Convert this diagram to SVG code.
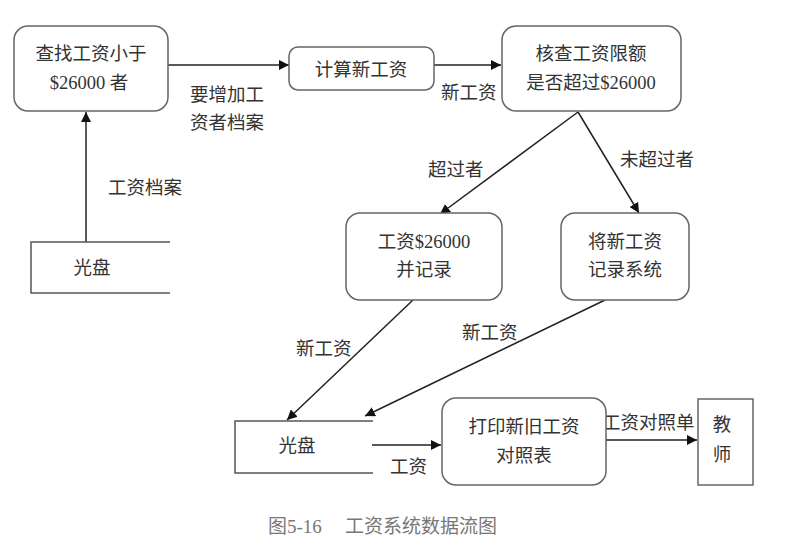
<svg xmlns="http://www.w3.org/2000/svg" width="797" height="547" viewBox="0 0 797 547">
<defs>
<marker id="ah" viewBox="0 0 10 10" refX="10" refY="5" markerWidth="10" markerHeight="10" markerUnits="userSpaceOnUse" orient="auto">
<path d="M0,0 L10,5 L0,10 z" fill="#111"/>
</marker>
<style>
.box{fill:#fff;stroke:#666;stroke-width:1.5}
.st{fill:none;stroke:#555;stroke-width:1.5}
.t{font-family:"Liberation Serif","Noto Sans CJK SC",serif;font-size:18.5px;fill:#333;text-anchor:middle}
.lb{font-family:"Liberation Serif","Noto Sans CJK SC",serif;font-size:18.5px;fill:#333}
.c{fill:none;stroke:#222;stroke-width:1.5;marker-end:url(#ah)}
.cap{font-family:"Liberation Serif","Noto Sans CJK SC",serif;font-size:19px;fill:#777}
</style>
</defs>
<rect width="797" height="547" fill="#fff"/>
<g id="connectors">
<line class="c" x1="168" y1="65" x2="289" y2="65"/>
<line class="c" x1="434" y1="65" x2="501" y2="65"/>
<line class="c" x1="578" y1="112" x2="440" y2="214"/>
<line class="c" x1="578" y1="112" x2="639" y2="213"/>
<line class="c" x1="86" y1="242" x2="86" y2="112"/>
<line class="c" x1="413" y1="300" x2="287" y2="420"/>
<line class="c" x1="605" y1="300" x2="365" y2="416"/>
<line class="c" x1="372" y1="445" x2="441" y2="445"/>
<line class="c" x1="606" y1="440" x2="697" y2="440"/>
<text class="lb" x="190" y="101">要增加工</text>
<text class="lb" x="190" y="129">资者档案</text>
<text class="lb" x="441" y="99">新工资</text>
<text class="lb" x="428" y="176">超过者</text>
<text class="lb" x="620" y="166">未超过者</text>
<text class="lb" x="108" y="194">工资档案</text>
<text class="lb" x="296" y="355">新工资</text>
<text class="lb" x="462" y="339">新工资</text>
<text class="lb" x="390" y="473">工资</text>
<text class="lb" x="602" y="429">工资对照单</text>
</g>
<g id="n1">
<rect class="box" x="14" y="26" width="154" height="85" rx="14"/>
<text class="t" x="91" y="60">查找工资小于</text>
<text class="t" x="89" y="89">$26000 者</text>
</g>
<g id="n2">
<rect class="box" x="289" y="47" width="145" height="43" rx="9"/>
<text class="t" x="361" y="76">计算新工资</text>
</g>
<g id="n3">
<rect class="box" x="502" y="26" width="179" height="85" rx="14"/>
<text class="t" x="591" y="60">核查工资限额</text>
<text class="t" x="591" y="89">是否超过$26000</text>
</g>
<g id="n4">
<rect class="box" x="346" y="213" width="156" height="87" rx="14"/>
<text class="t" x="424" y="248">工资$26000</text>
<text class="t" x="424" y="276">并记录</text>
</g>
<g id="n5">
<rect class="box" x="561" y="213" width="128" height="87" rx="14"/>
<text class="t" x="625" y="248">将新工资</text>
<text class="t" x="625" y="276">记录系统</text>
</g>
<g id="s1">
<path class="st" d="M170,242 H31 V293 H170"/>
<text class="t" x="92" y="274">光盘</text>
</g>
<g id="s2">
<path class="st" d="M373,421 H235 V473 H373"/>
<text class="t" x="297" y="452">光盘</text>
</g>
<g id="n6">
<rect class="box" x="442" y="398" width="164" height="87" rx="14"/>
<text class="t" x="524" y="433">打印新旧工资</text>
<text class="t" x="524" y="462">对照表</text>
</g>
<g id="n7">
<rect class="box" x="698" y="399" width="55" height="86"/>
<text class="t" x="722" y="431">教</text>
<text class="t" x="722" y="461">师</text>
</g>
<text class="cap" x="268" y="533">图5-16</text>
<text class="cap" x="345" y="533">工资系统数据流图</text>
</svg>
